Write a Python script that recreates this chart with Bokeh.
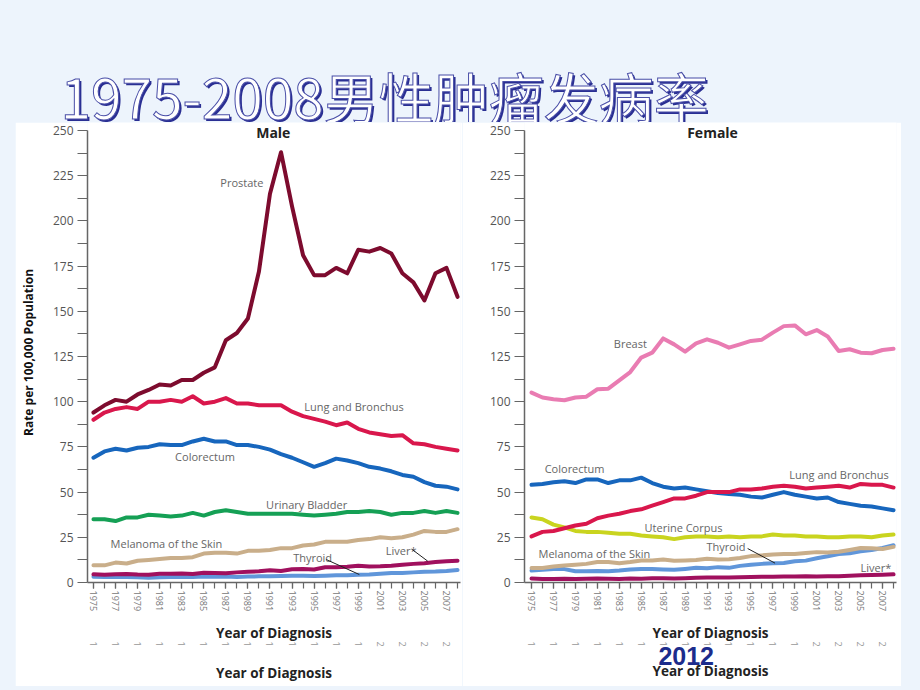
from bokeh.plotting import figure
from bokeh.models import FixedTicker, LinearAxis, Label, Arrow, Range1d, Spacer
from bokeh.layouts import column, row
from bokeh.embed import file_html
from bokeh.resources import INLINE

# ---------------- data ----------------
years = list(range(1975, 2009))
odd_years = years[::2]
y_ticks = [0, 25, 50, 75, 100, 125, 150, 175, 200, 225, 250]
y_minor = [12.5, 37.5, 62.5, 87.5, 112.5, 137.5, 162.5, 187.5, 212.5, 237.5]

# Male
prostate = [94, 98, 101, 100, 104, 106.5, 109.5, 109, 112, 112, 116, 119, 134, 138, 146, 172,
            215, 238, 208, 181, 170, 170, 174, 171, 184, 183, 185, 182, 171, 166, 156, 171, 174, 158]
lung_m = [90, 94, 96, 97, 96, 100, 100, 101, 100, 103, 99, 100, 102, 99, 99, 98, 98, 98, 94.5, 92,
          90.5, 89, 87, 88.5, 85, 83, 82, 81, 81.5, 77, 76.5, 75, 74, 73]
colorectum_m = [69, 72.5, 74, 73, 74.5, 75, 76.5, 76, 76, 78, 79.5, 78, 78, 76, 76, 75, 73.5, 71, 69,
                66.5, 64, 66, 68.5, 67.5, 66, 64, 63, 61.5, 59.5, 58.5, 55.5, 53.5, 53, 51.5]
bladder_m = [35, 35, 34, 36, 36, 37.5, 37, 36.5, 37, 38.5, 37, 39, 40, 39, 38, 38, 38, 38, 38, 37.5,
             37, 37.5, 38, 39, 39, 39.5, 39, 37.5, 38.5, 38.5, 39.5, 38.5, 39.5, 38.5]
melanoma_m = [9.5, 9.5, 11, 10.5, 12, 12.5, 13, 13.5, 13.5, 14, 16, 16.5, 16.5, 16, 17.5, 17.5, 18,
              19, 19, 20.5, 21, 22.5, 22.5, 22.5, 23.5, 24, 25, 24.5, 25, 26.5, 28.5, 28, 28, 29.5]
liver_m = [4.5, 4.3, 4.6, 4.7, 4.4, 4.3, 4.9, 4.8, 5.0, 4.7, 5.4, 5.2, 5.1, 5.6, 5.9, 6.2, 6.8, 6.4,
           7.3, 7.4, 7.2, 8.4, 8.5, 8.7, 9.2, 8.9, 9.0, 9.3, 9.8, 10.3, 10.7, 11.3, 11.8, 12.0]
thyroid_m = [3.2, 3.0, 3.2, 3.1, 2.9, 2.6, 2.9, 3.0, 3.1, 3.0, 3.3, 3.2, 3.3, 3.1, 3.3, 3.4, 3.5, 3.6,
             3.8, 3.7, 3.6, 3.8, 4.0, 4.0, 4.3, 4.4, 4.8, 5.2, 5.3, 5.6, 6.0, 6.1, 6.4, 6.9]

# Female
breast = [105, 102.3, 101.4, 100.8, 102.3, 102.8, 106.9, 107.2, 111.8, 116.4, 124.4, 127.1, 135,
          131.7, 127.7, 132.3, 134.5, 132.6, 129.9, 131.7, 133.6, 134.3, 138.2, 141.8, 142.2, 137.3,
          139.6, 136.1, 128, 129, 127.1, 126.8, 128.6, 129.3]
colorectum_f = [54, 54.5, 55.5, 56, 55, 57, 57, 55, 56.5, 56.5, 58, 55, 53, 52, 52.5, 51.5, 50.5,
                49.5, 49, 48.5, 47.5, 47, 48.5, 50, 48.5, 47.5, 46.5, 47, 44.5, 43.5, 42.5, 42, 41, 40]
lung_f = [25.5, 28, 28.5, 30, 31.5, 32.5, 35.5, 37, 38, 39.5, 40.5, 42.5, 44.5, 46.5, 46.5, 48, 50,
          50, 50, 51.5, 51.5, 52, 53, 53.5, 53, 52, 52.5, 53, 53.5, 52.5, 54.5, 54, 54, 52.5]
uterine = [36, 35, 32, 30.5, 28.5, 28, 28, 27.5, 27, 27, 26, 25.5, 25, 24, 25, 25.5, 25.5, 25, 25.5,
           25, 25.5, 25.5, 26.5, 26, 26, 25.5, 25.5, 25, 25, 25.5, 25.5, 25, 26, 26.5]
melanoma_f = [8, 8, 8.8, 9.4, 9.8, 10.3, 11.3, 11.3, 10.7, 11.3, 12.2, 12.2, 12.7, 12, 12.2, 12.4,
              13.1, 12.7, 12.9, 13.6, 14.6, 15, 15.5, 15.7, 15.7, 16.3, 16.8, 16.6, 17, 18, 19.1,
              18.9, 18.5, 19.7]
thyroid_f = [6.6, 7.0, 7.5, 7.4, 6.2, 6.2, 6.4, 6.2, 6.6, 7.2, 7.4, 7.5, 7.2, 7.0, 7.5, 8.1, 7.9, 8.5,
             8.1, 9.2, 9.8, 10.3, 10.7, 10.8, 11.7, 12.1, 13.4, 14.5, 15.8, 16.2, 17.3, 18, 19.1, 20.6]
liver_f = [2.2, 2.0, 2.0, 2.1, 2.0, 2.1, 2.2, 2.1, 2.0, 2.2, 2.1, 2.3, 2.4, 2.2, 2.4, 2.6, 2.7, 2.8,
           2.7, 2.9, 3.0, 3.2, 3.2, 3.3, 3.3, 3.4, 3.3, 3.4, 3.5, 3.8, 4.0, 4.2, 4.3, 4.5]

page_title = "1975-2008男性肿瘤发病率"
stamp = "2012"
x_title = "Year of Diagnosis"

# ---------------- styles ----------------
BG = "#edf4fc"
FONT = "Open Sans"
AX = "#666666"
C = dict(prostate="#7d0b2e", lung="#d9174c", colorectum="#1766bd", bladder="#15a055",
         melanoma="#c9ae8a", liver="#a0105e", thyroid="#6096da", breast="#e97cb2",
         uterine="#c9d41f")
PANEL_H = 564
Y_TOP = 254.42  # a little head-room above 250 for the panel heading


def bare_axis(**kw):
    a = LinearAxis(**kw)
    a.axis_line_color = None
    a.major_tick_line_color = None
    a.minor_tick_line_color = None
    a.major_tick_out = 0
    a.major_tick_in = 0
    a.minor_tick_out = 0
    a.minor_tick_in = 0
    return a


def style_xlabel(a, standoff):
    a.axis_label = x_title
    a.axis_label_text_font = FONT
    a.axis_label_text_font_style = "bold"
    a.axis_label_text_font_size = "13.5px"
    a.axis_label_text_color = "#222222"
    a.axis_label_standoff = standoff


def make_panel(width, min_left, min_right, x0, with_ylabel, with_stamp):
    p = figure(width=width, height=PANEL_H, output_backend="svg", toolbar_location=None,
               x_range=Range1d(x0, 2008.27), y_range=Range1d(0, Y_TOP),
               min_border_left=min_left, min_border_right=min_right,
               min_border_top=0, min_border_bottom=104,
               background_fill_color="white", border_fill_color="white",
               outline_line_color=None)
    p.grid.visible = False
    xa = p.xaxis[0]
    xa.ticker = FixedTicker(ticks=odd_years, minor_ticks=years)
    xa.major_label_orientation = "vertical"
    xa.major_tick_out = 6
    xa.major_tick_in = 0
    xa.minor_tick_out = 6
    xa.minor_tick_in = 0
    xa.axis_line_color = AX
    xa.axis_line_width = 1.5
    xa.major_tick_line_color = AX
    xa.minor_tick_line_color = AX
    xa.major_tick_line_width = 1.2
    xa.minor_tick_line_width = 1.2
    xa.major_label_text_font = FONT
    xa.major_label_text_font_size = "9px"
    xa.major_label_text_color = "#777777"
    xa.major_label_standoff = 2
    style_xlabel(xa, 10)

    # faint repeated row of cut-off year labels (as in the slide)
    xa2 = bare_axis(ticker=FixedTicker(ticks=odd_years),
                    major_label_overrides={y: str(y)[0] for y in odd_years})
    xa2.major_label_orientation = "vertical"
    xa2.major_label_text_font = FONT
    xa2.major_label_text_font_size = "9px"
    xa2.major_label_text_color = "#999999"
    xa2.major_label_standoff = -4
    p.add_layout(xa2, "below")

    if with_stamp:
        xa3 = bare_axis(ticker=FixedTicker(ticks=[]))
        # trailing no-break spaces shift the centred stamp a little to the left
        xa3.axis_label = stamp + "\u00a0" * 7
        xa3.axis_label_text_font = "Liberation Sans"
        xa3.axis_label_text_font_style = "bold"
        xa3.axis_label_text_font_size = "25px"
        xa3.axis_label_text_color = "#1c2c8c"
        xa3.axis_label_standoff = -8
        p.add_layout(xa3, "below")
        xa4 = bare_axis(ticker=FixedTicker(ticks=[]))
        style_xlabel(xa4, -11)
        p.add_layout(xa4, "below")
    else:
        style_xlabel(xa2, 14)

    ya = p.yaxis[0]
    ya.bounds = (0, 250)
    ya.ticker = FixedTicker(ticks=y_ticks, minor_ticks=y_minor)
    ya.major_tick_out = 10
    ya.major_tick_in = 0
    ya.minor_tick_out = 10
    ya.minor_tick_in = 0
    ya.axis_line_color = AX
    ya.axis_line_width = 1.5
    ya.major_tick_line_color = AX
    ya.minor_tick_line_color = AX
    ya.major_tick_line_width = 1.2
    ya.minor_tick_line_width = 1.2
    ya.major_label_text_font = FONT
    ya.major_label_text_font_size = "12px"
    ya.major_label_text_color = "#555555"
    ya.major_label_standoff = 4
    if with_ylabel:
        ya.axis_label = "Rate per 100,000 Population"
        ya.axis_label_text_font = FONT
        ya.axis_label_text_font_style = "bold"
        ya.axis_label_text_font_size = "12px"
        ya.axis_label_text_color = "#111111"
        ya.axis_label_standoff = 13
    return p


def series(p, vals, color):
    p.line(years, vals, line_color=color, line_width=4, line_join="round", line_cap="round")


def tag(p, x, y, text, align="left"):
    p.add_layout(Label(x=x, y=y, text=text, text_font=FONT, text_font_size="11px",
                       text_color="#666666", text_baseline="middle", text_align=align))


def leader(p, x0, y0, x1, y1):
    p.add_layout(Arrow(x_start=x0, y_start=y0, x_end=x1, y_end=y1, end=None,
                       line_color="#222222", line_width=1))


def heading(p, x, text):
    p.add_layout(Label(x=x, y=Y_TOP, text=text,
                       text_font=FONT, text_font_style="bold", text_font_size="14px",
                       text_color="#222222", text_align="center", text_baseline="top"))


# ---------------- title ----------------
t = figure(width=920, height=122, output_backend="svg", toolbar_location=None,
           x_range=Range1d(0, 1), y_range=Range1d(0, 1), x_axis_type=None, y_axis_type=None,
           min_border=0, background_fill_color=BG, border_fill_color=BG, outline_line_color=None)
t.grid.visible = False
t.add_layout(Label(x=62, y=26, x_units="screen", y_units="screen", text=page_title,
                   text_font="Noto Sans CJK SC", text_font_size="55px", text_color="#2a2f93",
                   text_baseline="middle", text_align="left"))
t.add_layout(Label(x=60, y=28, x_units="screen", y_units="screen", text=page_title,
                   text_font="Noto Sans CJK SC", text_font_size="55px", text_color="#ffffff",
                   text_outline_color="#4a4fa8", text_baseline="middle", text_align="left"))

# ---------------- male ----------------
pm = make_panel(447, 72, 2, 1974.46, True, False)
series(pm, thyroid_m, C["thyroid"])
series(pm, liver_m, C["liver"])
series(pm, melanoma_m, C["melanoma"])
series(pm, bladder_m, C["bladder"])
series(pm, colorectum_m, C["colorectum"])
series(pm, lung_m, C["lung"])
series(pm, prostate, C["prostate"])
heading(pm, 1991.3, "Male")
tag(pm, 1986.5, 221.5, "Prostate")
tag(pm, 1994.1, 97.3, "Lung and Bronchus")
tag(pm, 1982.4, 69.7, "Colorectum")
tag(pm, 1990.65, 43.4, "Urinary Bladder")
tag(pm, 1976.55, 21.5, "Melanoma of the Skin")
tag(pm, 1993.1, 14, "Thyroid")
tag(pm, 2001.5, 17.7, "Liver*")
leader(pm, 1996.1, 12.7, 1999.1, 4.4)
leader(pm, 2003.9, 18.2, 2005.3, 11.8)

# ---------------- female ----------------
pf = make_panel(439, 62, 5, 1974.36, False, True)
series(pf, liver_f, C["liver"])
series(pf, thyroid_f, C["thyroid"])
series(pf, melanoma_f, C["melanoma"])
series(pf, uterine, C["uterine"])
series(pf, colorectum_f, C["colorectum"])
series(pf, lung_f, C["lung"])
series(pf, breast, C["breast"])
heading(pf, 1991.5, "Female")
tag(pf, 1982.5, 132, "Breast")
tag(pf, 1976.2, 63.1, "Colorectum")
tag(pf, 1998.5, 60, "Lung and Bronchus")
tag(pf, 1985.3, 30.4, "Uterine Corpus")
tag(pf, 1975.64, 16, "Melanoma of the Skin")
tag(pf, 1990.95, 19.7, "Thyroid")
tag(pf, 2007.8, 8.4, "Liver*", align="right")
leader(pf, 1994.7, 18.8, 1997.2, 10.7)

layout = column(t, row(Spacer(width=15, height=PANEL_H), pm, pf))

html = file_html(layout, INLINE)
html = html.replace("</head>", "<style>body{background-color:%s;}</style></head>" % BG, 1)
open("out.html", "w").write(html)
